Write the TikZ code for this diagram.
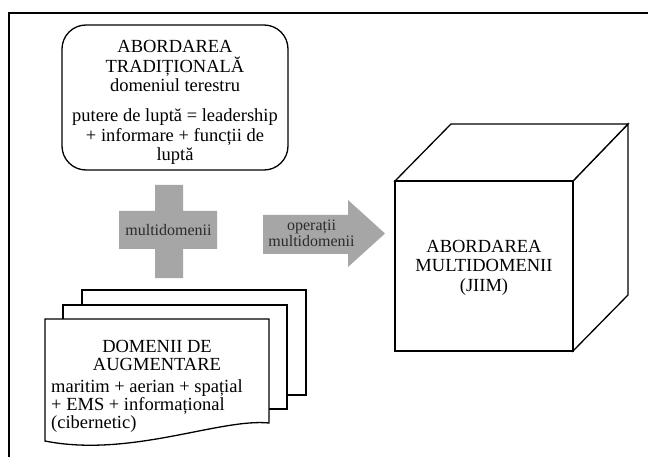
\documentclass[tikz,border=0pt]{standalone}
\usepackage{fontspec}
\setmainfont{Liberation Serif}
\definecolor{shapegray}{HTML}{A6A6A6}
\definecolor{labelgray}{HTML}{2B2B2B}
\tikzset{
  outline/.style={draw=black, line width=1.3pt, fill=white, line join=miter},
  graybox/.style={fill=shapegray, draw=none},
  bigtext/.style={font=\fontsize{18.5}{19.5}\selectfont, inner sep=0pt, align=center},
  doctext/.style={font=\fontsize{18.5}{18}\selectfont, inner sep=0pt},
  smalltext/.style={font=\fontsize{16}{16}\selectfont, text=labelgray, inner sep=0pt, align=center}
}
\begin{document}
\begin{tikzpicture}[x=1pt,y=-1pt]
\useasboundingbox (0,0) rectangle (648,457);
\fill[white] (0,0) rectangle (648,457);
% frame
\draw[line width=1.5pt] (648,13) -- (9,13) -- (9,457);

% traditional approach box
\draw[outline, rounded corners=24pt] (62,25) rectangle (288,170);
\node[bigtext, anchor=north] (trad) at (175,40.5)
  {ABORDAREA\\TRADIȚIONALĂ\\domeniul terestru\\[10.5pt]putere de luptă = leadership\\+ informare + funcții de\\luptă};

% plus
\fill[graybox] (155,185) -- (183,185) -- (183,211) -- (217,211) -- (217,249) -- (183,249)
  -- (183,278) -- (155,278) -- (155,249) -- (119,249) -- (119,211) -- (155,211) -- cycle;
\node[smalltext] (plus) at (168.5,230.5) {multidomenii};

% arrow
\fill[graybox] (263,215) -- (348,215) -- (348,200) -- (385,233.5) -- (348,267) -- (348,254) -- (263,254) -- cycle;
\node[smalltext] (ops) at (311.5,233) {operații\\multidomenii};

% document stack
\draw[outline] (82,290) rectangle (306,395);
\draw[outline] (63,305) rectangle (287,409);
\draw[outline] (45,319) -- (269,319) -- (269,423) .. controls (220,418) and (130,458) .. (45,441) -- cycle;
\node[doctext, align=center] (doctitle) at (157,355) {DOMENII DE\\AUGMENTARE};
\node[doctext, align=left, anchor=north west] (docbody) at (51,379.5)
  {maritim + aerian + spațial\\+ EMS + informațional\\(cibernetic)};

% cube
\draw[outline] (573,181) -- (628,124) -- (628,295) -- (573,351) -- cycle;
\draw[outline] (395,181) -- (451,124) -- (628,124) -- (573,181) -- cycle;
\draw[outline] (395,181) rectangle (573,351);
\node[bigtext, anchor=north] (multi) at (484,240) {ABORDAREA\\MULTIDOMENII\\(JIIM)};
\end{tikzpicture}
\end{document}
